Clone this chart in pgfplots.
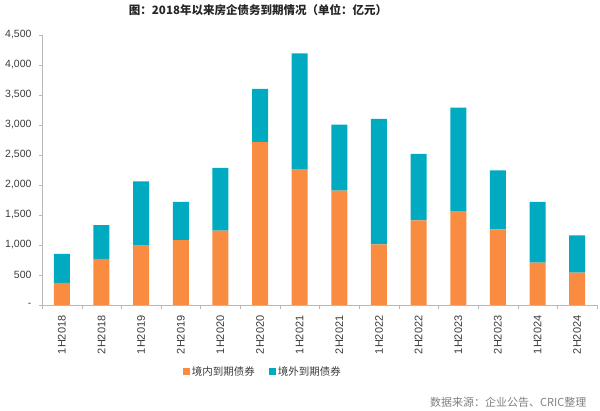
\documentclass[border=0pt]{standalone}
\usepackage{fontspec}
\setmainfont{Liberation Sans}
\newfontfamily\cjk{Noto Sans CJK SC}
\usepackage{pgfplots}
\pgfplotsset{compat=1.18}
\definecolor{dom}{RGB}{250,140,65}
\definecolor{ovs}{RGB}{0,170,192}
\definecolor{axgray}{RGB}{185,185,185}
\definecolor{txt}{RGB}{60,60,60}
\begin{document}
\begin{tikzpicture}[x=1pt,y=1pt]
\path[use as bounding box] (0,0) rectangle (600,411);
\begin{axis}[
  at={(42pt,106pt)}, anchor=south west,
  scale only axis, width=555pt, height=270pt,
  ybar stacked, bar width=16pt,
  xmin=-0.5, xmax=13.5, ymin=0, ymax=4500,
  enlargelimits=false,
  axis x line*=bottom, axis y line*=left,
  axis line style={axgray,-},
  tick align=outside,
  xtick={0,...,13},
  xticklabels={1H2018,2H2018,1H2019,2H2019,1H2020,2H2020,1H2021,2H2021,1H2022,2H2022,1H2023,2H2023,1H2024,2H2024},
  x tick label style={rotate=90, anchor=east, font=\fontsize{11}{12}\selectfont, text=txt},
  xticklabel shift=4pt,
  major x tick style={draw=none},
  minor xtick={-0.5,0.5,...,13.5},
  minor x tick style={axgray},
  minor tick length=4pt,
  ytick={0,500,...,4500},
  yticklabels={-,500,{1,000},{1,500},{2,000},{2,500},{3,000},{3,500},{4,000},{4,500}},
  y tick label style={font=\fontsize{10.5}{12}\selectfont, text=txt},
  yticklabel shift=4pt,
  y tick style={axgray},
  major tick length=3pt,
  legend style={at={(0.398,-0.248)}, anchor=center, draw=none, legend columns=2,
    font=\cjk\fontsize{10.5}{12}\selectfont, text=txt,
    /tikz/every even column/.append style={column sep=12pt}},
]
\addplot[fill=dom, draw=none, legend image code/.code={\fill[dom] (0pt,-3.5pt) rectangle (7pt,3.5pt);}]
 coordinates {(0,370) (1,770) (2,990) (3,1080) (4,1240) (5,2715) (6,2255) (7,1905) (8,1010) (9,1410) (10,1555) (11,1260) (12,705) (13,540)};
\addlegendentry{境内到期债券}
\addplot[fill=ovs, draw=none, legend image code/.code={\fill[ovs] (0pt,-3.5pt) rectangle (7pt,3.5pt);}]
 coordinates {(0,480) (1,560) (2,1070) (3,640) (4,1045) (5,885) (6,1940) (7,1100) (8,2090) (9,1110) (10,1735) (11,985) (12,1015) (13,620)};
\addlegendentry{境外到期债券}
\end{axis}
\node[font=\cjk\bfseries\fontsize{11.5}{13}\selectfont, text=black!85] at (258,401) {图：2018年以来房企债务到期情况（单位：亿元）};
\node[anchor=east, font=\cjk\fontsize{11}{13}\selectfont, text=gray] at (590,9) {数据来源：企业公告、CRIC整理};
\end{tikzpicture}
\end{document}
